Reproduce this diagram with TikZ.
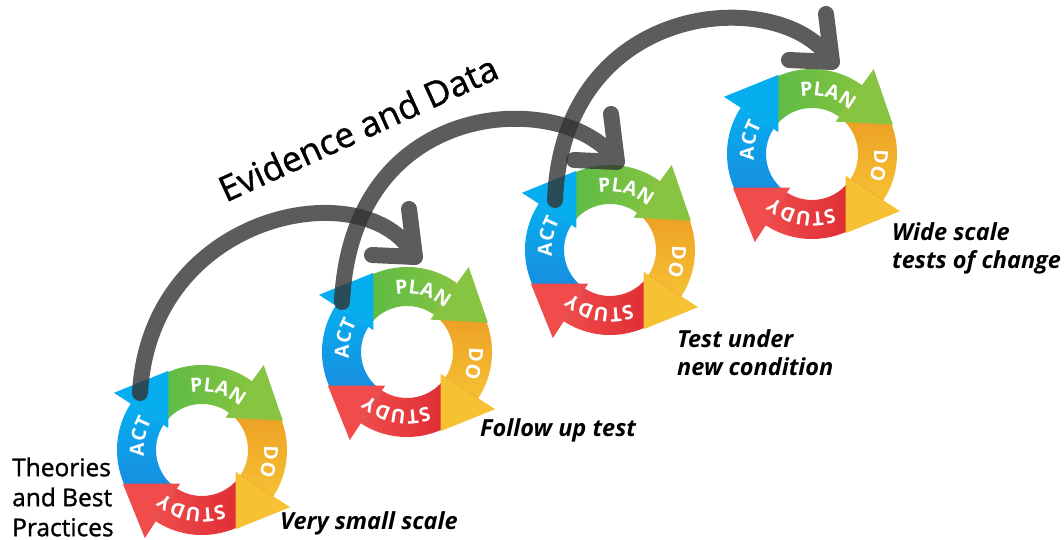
\documentclass[tikz,border=0pt]{standalone}
\usepackage{fontspec}
\setmainfont{Open Sans}
\newfontfamily\mediumfont[FakeBold=1.2]{Open Sans}
\usetikzlibrary{calc,decorations.text}

\newcommand{\ringword}[4]{%
\path[decorate,decoration={text along path,text align=center,text color=white,
  text={|\fontsize{19.5}{19.5}\selectfont\bfseries|#4}}] (#2:#1) arc[start angle=#2,end angle=#3,radius=#1];}

\newcommand{\pdsacycle}[3]{%
\begin{scope}[shift={(#2,#3)}]
\node[circle,minimum size=92pt,inner sep=0pt] (#1) at (0,0) {};
\path[left color=planL,right color=planR] (147:85) arc[start angle=147,end angle=54,radius=85] -- (54:46) arc[start angle=54,end angle=147,radius=46] -- cycle;
\path[top color=doT,bottom color=doB] (54:85) arc[start angle=54,end angle=-33,radius=85] -- (-33:46) arc[start angle=-33,end angle=54,radius=46] -- cycle;
\path[left color=studyL,right color=studyR] (-33:85) arc[start angle=-33,end angle=-123,radius=85] -- (-123:46) arc[start angle=-123,end angle=-33,radius=46] -- cycle;
\path[top color=actT,bottom color=actB] (-123:85) arc[start angle=-123,end angle=-213,radius=85] -- (-213:46) arc[start angle=-213,end angle=-123,radius=46] -- cycle;
\fill[planR] (54:40) -- (54:105) -- (20:86) -- cycle;
\fill[doB] (-33:40) -- (-33:105) -- (-67:86) -- cycle;
\fill[studyL] (-123:40) -- (-123:105) -- (-157:86) -- cycle;
\fill[actT] (147:40) -- (147:105) -- (113:86) -- cycle;
\ringword{58}{120}{30}{PLAN}
\ringword{62}{35}{-55}{DO}
\ringword{58}{-55}{-145}{STUDY}
\ringword{58}{213}{123}{ACT}
\end{scope}}

\begin{document}
\begin{tikzpicture}[x=1pt,y=1pt,
  trail/.style={draw=trailgray,draw opacity=0.8,line width=16pt,line cap=round,line join=round},
  basis/.style={inner sep=0pt,align=left,font=\mediumfont\fontsize{24.5}{30}\selectfont},
  scale note/.style={inner sep=0pt,align=left,font=\fontsize{23.5}{28}\selectfont\bfseries\itshape}]
\definecolor{planL}{HTML}{4DB848}
\definecolor{planR}{HTML}{86C441}
\definecolor{doT}{HTML}{E8921E}
\definecolor{doB}{HTML}{F6C133}
\definecolor{studyL}{HTML}{F04C4C}
\definecolor{studyR}{HTML}{D7212A}
\definecolor{actT}{HTML}{06AEEF}
\definecolor{actB}{HTML}{1F80DA}
\definecolor{trailgray}{HTML}{333333}
\useasboundingbox (0,0) rectangle (1064,540);

\pdsacycle{c1}{202}{90}
\pdsacycle{c2}{407}{188}
\pdsacycle{c3}{610}{290}
\pdsacycle{c4}{812}{386}

\coordinate (c1-out) at ($(c1)+(-62,57)$);
\coordinate (c2-out) at ($(c2)+(-65,50)$);
\coordinate (c3-out) at ($(c3)+(-55,50)$);
\coordinate (c2-in) at ($(c2)+(8,95)$);
\coordinate (c3-in) at ($(c3)+(7,88)$);
\coordinate (c4-in) at ($(c4)+(20,92)$);

\draw[trail] (c1-out) .. controls +(10,183) and +(-45,87) .. (c2-in) -- +(-43,2) (c2-in) -- +(-6,48);
\draw[trail] (c2-out) .. controls +(10,212) and +(-45,72) .. (c3-in) -- +(-43,2) (c3-in) -- +(-6,48);
\draw[trail] (c3-out) .. controls +(8,205) and +(-45,77) .. (c4-in) -- +(-43,2) (c4-in) -- +(-6,48);

\node[rotate=24.5,inner sep=0pt,font=\mediumfont\fontsize{35}{35}\selectfont] (evidence) at (358,412) {Evidence and Data};
\node[basis,anchor=west] (theories) at (12,43) {Theories\\and Best\\Practices};
\node[scale note,anchor=west] (small) at (280,17) {Very small scale};
\node[scale note,anchor=west] (followup) at (480,110) {Follow up test};
\node[scale note,anchor=west] (newcond) at (677,187) {Test under\\new condition};
\node[scale note,anchor=west] (widescale) at (892,292) {Wide scale\\tests of change};
\end{tikzpicture}
\end{document}
